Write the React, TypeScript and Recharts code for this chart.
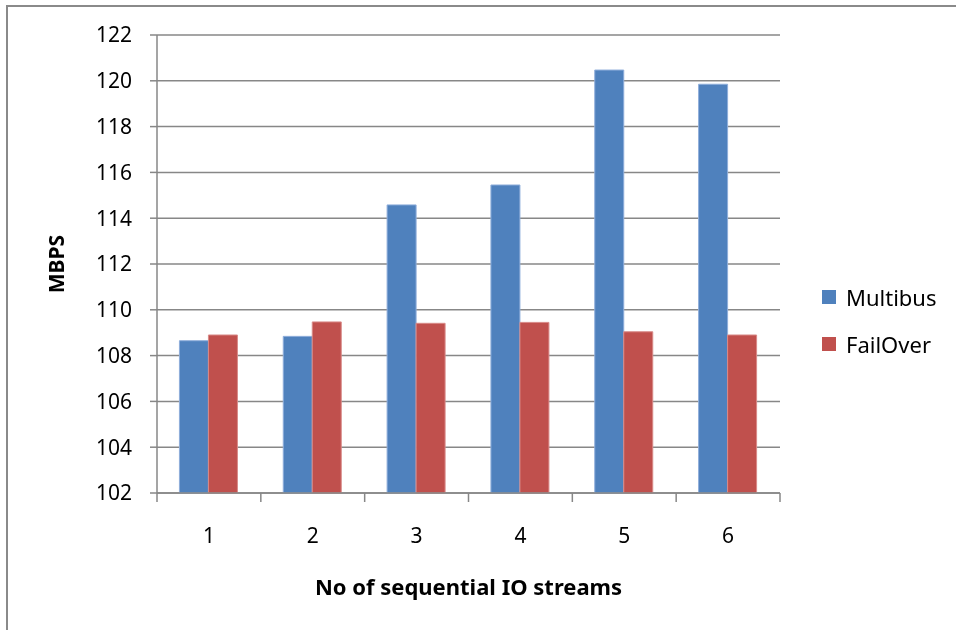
import React from 'react'
import { BarChart, Bar, XAxis, YAxis, CartesianGrid, Legend, Label } from 'recharts'

const streams = ['1', '2', '3', '4', '5', '6']
const multibus = [108.65, 108.84, 114.58, 115.45, 120.47, 119.85]
const failOver = [108.9, 109.47, 109.41, 109.45, 109.04, 108.9]
const yTicks = [102, 104, 106, 108, 110, 112, 114, 116, 118, 120, 122]

const data = streams.map((s, i) => ({ name: s, Multibus: multibus[i], FailOver: failOver[i] }))

const FONT = '"Noto Sans", sans-serif'
const AXIS = '#878787'

// Excel puts the category ticks on the band edges, not the centres
function EdgeTick(props: any) {
  const { x, y, payload, index, visibleTicksCount } = props
  const half = payload.offset ?? 0
  const axisY = y - 35
  const last = index === visibleTicksCount - 1
  return (
    <g>
      <line x1={x - half} x2={x - half} y1={axisY} y2={axisY + 9} stroke={AXIS} strokeWidth={1.5} />
      {last && <line x1={x + half} x2={x + half} y1={axisY} y2={axisY + 9} stroke={AXIS} strokeWidth={1.5} />}
      <text x={x} y={y} dy="0.71em" textAnchor="middle" fill="#000" fontSize={21} fontFamily={FONT}>
        {payload.value}
      </text>
    </g>
  )
}

function LegendBox() {
  const items = [
    { label: 'Multibus', color: '#4F81BD' },
    { label: 'FailOver', color: '#C0504D' },
  ]
  return (
    <div>
      {items.map((it) => (
        <div key={it.label} style={{ display: 'flex', alignItems: 'center', height: 28, marginBottom: 19, whiteSpace: 'nowrap' }}>
          <span style={{ width: 14, height: 14, background: it.color, display: 'inline-block', marginRight: 10 }} />
          <span style={{ fontSize: 22, color: '#000', fontFamily: FONT }}>{it.label}</span>
        </div>
      ))}
    </div>
  )
}

export default function App() {
  return (
    <div style={{ fontFamily: FONT }}>
      {/* frame of the pasted chart: only left and top edges are in view */}
      <div
        style={{
          position: 'fixed',
          left: 6,
          top: 5,
          width: 960,
          height: 640,
          borderLeft: '2px solid #8a8a8a',
          borderTop: '2px solid #8a8a8a',
          pointerEvents: 'none',
        }}
      />
      <div style={{ marginTop: -1 }}>
        <BarChart
          width={940}
          height={615}
          data={data}
          margin={{ top: 28, right: 48, left: 0, bottom: 19 }}
          barCategoryGap="21.6%"
          barGap={0}
        >
          <CartesianGrid horizontal vertical={false} stroke={AXIS} strokeWidth={1.5} />
          <XAxis
            dataKey="name"
            height={110}
            tickLine={false}
            tickSize={0}
            tickMargin={35}
            axisLine={{ stroke: AXIS, strokeWidth: 1.5 }}
            tick={<EdgeTick />}
          >
            <Label
              value="No of sequential IO streams"
              position="insideBottom"
              offset={8}
              fill="#000"
              fontSize={22}
              fontWeight="bold"
              fontFamily={FONT}
            />
          </XAxis>
          <YAxis
            width={149}
            domain={[102, 122]}
            ticks={yTicks}
            interval={0}
            tickSize={7}
            tickMargin={18}
            tickLine={{ stroke: AXIS, strokeWidth: 1.5 }}
            axisLine={{ stroke: AXIS, strokeWidth: 1.5 }}
            tick={{ fill: '#000', fontSize: 21, fontFamily: FONT }}
          >
            <Label
              content={({ viewBox }: any) => {
                const cx = viewBox.x + 49
                const cy = viewBox.y + viewBox.height / 2
                return (
                  <text
                    x={cx}
                    y={cy}
                    dy="0.35em"
                    transform={`rotate(-90, ${cx}, ${cy})`}
                    textAnchor="middle"
                    fill="#000"
                    fontSize={21}
                    fontWeight="bold"
                    fontFamily={FONT}
                  >
                    MBPS
                  </text>
                )
              }}
            />
          </YAxis>
          <Legend
            layout="vertical"
            align="right"
            verticalAlign="middle"
            content={<LegendBox />}
            wrapperStyle={{ position: 'absolute', left: 814, top: 276, width: 120 }}
          />
          <Bar dataKey="Multibus" fill="#4F81BD" stroke="#8FAEDB" strokeWidth={1} isAnimationActive={false} />
          <Bar dataKey="FailOver" fill="#C0504D" stroke="#D98A88" strokeWidth={1} isAnimationActive={false} />
        </BarChart>
      </div>
    </div>
  )
}
